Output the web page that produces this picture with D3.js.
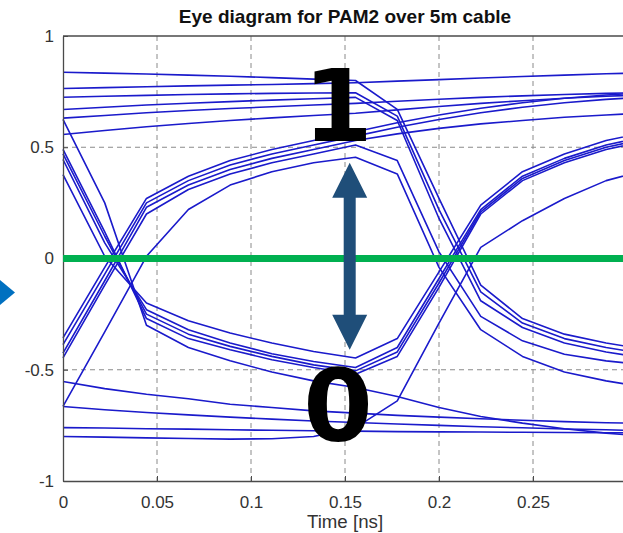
<!DOCTYPE html>
<html>
<head>
<meta charset="utf-8">
<script src="https://cdn.jsdelivr.net/npm/d3@7"></script>
<style>
  body { margin: 0; background: #fff; }
  .tick text { font-family: "Liberation Sans", Arial, sans-serif; fill: #333; }
</style>
</head>
<body>
<div id="eye"></div>
<script>
var svgWidth = 623;
var svgHeight = 533;

var margin = {
  top: 36,
  right: -4,
  bottom: 52,
  left: 63
};

var width = svgWidth - margin.left - margin.right;
var height = svgHeight - margin.top - margin.bottom;

// sample instants of every trace [ns]
var sampleTimes = [0, 0.0222, 0.0444, 0.0667, 0.0889, 0.1111, 0.1333, 0.1556,
  0.1778, 0.2, 0.2222, 0.2444, 0.2667, 0.2889, 0.3111, 0.3333];

// traces that sit high at t = 0
var upperTraces = [
  [0.837, 0.833, 0.829, 0.824, 0.819, 0.813, 0.806, 0.800, 0.670, 0.270, -0.120, -0.270, -0.340, -0.380, -0.410, -0.430],
  [0.764, 0.768, 0.772, 0.776, 0.779, 0.782, 0.786, 0.790, 0.797, 0.804, 0.811, 0.818, 0.824, 0.830, 0.835, 0.839],
  [0.725, 0.729, 0.733, 0.737, 0.740, 0.742, 0.744, 0.745, 0.640, 0.220, -0.150, -0.290, -0.360, -0.400, -0.430, -0.450],
  [0.670, 0.680, 0.690, 0.698, 0.705, 0.712, 0.718, 0.724, 0.620, 0.180, -0.190, -0.310, -0.380, -0.420, -0.450, -0.470],
  [0.631, 0.643, 0.655, 0.665, 0.674, 0.682, 0.690, 0.697, 0.707, 0.716, 0.724, 0.731, 0.737, 0.742, 0.746, 0.749],
  [0.557, 0.575, 0.592, 0.607, 0.620, 0.632, 0.643, 0.653, 0.668, 0.683, 0.697, 0.709, 0.720, 0.729, 0.736, 0.742]
];

// traces rising through the first crossing
var risingTraces = [
  [-0.357, -0.040, 0.270, 0.370, 0.440, 0.490, 0.530, 0.570, 0.610, 0.645, 0.675, 0.700, 0.720, 0.735, 0.745, 0.752],
  [-0.387, -0.070, 0.250, 0.350, 0.420, 0.470, 0.510, 0.550, 0.590, 0.625, 0.655, 0.680, 0.700, 0.715, 0.727, 0.737],
  [-0.425, -0.100, 0.230, 0.330, 0.400, 0.450, 0.490, 0.530, 0.560, 0.585, 0.605, 0.620, 0.635, 0.645, 0.655, 0.665],
  [-0.447, -0.120, 0.200, 0.310, 0.380, 0.430, 0.470, 0.510, 0.440, 0.030, -0.260, -0.370, -0.430, -0.460, -0.480, -0.500],
  [-0.665, -0.330, 0.010, 0.220, 0.330, 0.390, 0.430, 0.455, 0.380, -0.040, -0.320, -0.440, -0.510, -0.550, -0.580, -0.600]
];

// traces falling through the first crossing
var fallingTraces = [
  [0.625, 0.250, -0.300, -0.400, -0.460, -0.510, -0.550, -0.580, -0.620, -0.670, -0.710, -0.740, -0.765, -0.785, -0.800, -0.810],
  [0.490, 0.120, -0.270, -0.360, -0.410, -0.455, -0.490, -0.520, -0.440, -0.130, 0.200, 0.350, 0.430, 0.490, 0.530, 0.560],
  [0.470, 0.100, -0.250, -0.340, -0.395, -0.440, -0.478, -0.505, -0.420, -0.110, 0.210, 0.360, 0.440, 0.500, 0.540, 0.570],
  [0.445, 0.070, -0.230, -0.320, -0.380, -0.428, -0.463, -0.490, -0.400, -0.090, 0.220, 0.370, 0.450, 0.510, 0.550, 0.580],
  [0.377, 0.010, -0.200, -0.280, -0.335, -0.380, -0.418, -0.447, -0.360, -0.060, 0.240, 0.390, 0.470, 0.530, 0.570, 0.600]
];

// traces that sit low at t = 0
var lowerTraces = [
  [-0.553, -0.585, -0.610, -0.630, -0.655, -0.670, -0.685, -0.695, -0.705, -0.713, -0.720, -0.727, -0.733, -0.738, -0.742, -0.746],
  [-0.665, -0.680, -0.692, -0.703, -0.713, -0.722, -0.730, -0.737, -0.744, -0.750, -0.756, -0.761, -0.766, -0.770, -0.774, -0.777],
  [-0.760, -0.762, -0.765, -0.767, -0.770, -0.772, -0.774, -0.776, -0.778, -0.779, -0.780, -0.781, -0.782, -0.783, -0.784, -0.785],
  [-0.800, -0.803, -0.806, -0.809, -0.812, -0.810, -0.800, -0.760, -0.640, -0.290, 0.050, 0.170, 0.270, 0.350, 0.400, 0.440]
];

var xTicks = [0, 0.05, 0.1, 0.15, 0.2, 0.25];
var yTicks = [-1, -0.5, 0, 0.5, 1];
var gridX = [0.05, 0.1, 0.15, 0.2, 0.25, 0.3];
var gridY = [-0.5, 0.5];

var chartTitle = "Eye diagram for PAM2 over 5m cable";
var xLabel = "Time [ns]";

// annotation: arrow between the inner eye edges, level labels
var arrowT = 0.1525;
var arrowTop = 0.43;
var arrowBottom = -0.41;
var levelLabels = [
  { text: "1", t: 0.1463, v: 0.526 },
  { text: "0", t: 0.1463, v: -0.82 }
];

var svg = d3.select("#eye")
  .append("svg")
  .attr("width", svgWidth)
  .attr("height", svgHeight)
  .style("display", "block");

var chartGroup = svg.append("g")
  .attr("transform", `translate(${margin.left}, ${margin.top})`);

var xScale = d3.scaleLinear()
  .domain([0, 0.3])
  .range([0, width]);

var yScale = d3.scaleLinear()
  .domain([-1, 1])
  .range([height, 0]);

// dashed grid
chartGroup.selectAll(".gridx")
  .data(gridX)
  .enter()
  .append("line")
  .attr("x1", d => xScale(d))
  .attr("x2", d => xScale(d))
  .attr("y1", 0)
  .attr("y2", height)
  .attr("stroke", "#8a8a8a")
  .attr("stroke-width", 1)
  .attr("stroke-dasharray", "5,4");

chartGroup.selectAll(".gridy")
  .data(gridY)
  .enter()
  .append("line")
  .attr("x1", 0)
  .attr("x2", width)
  .attr("y1", d => yScale(d))
  .attr("y2", d => yScale(d))
  .attr("stroke", "#8a8a8a")
  .attr("stroke-width", 1)
  .attr("stroke-dasharray", "5,4");

// traces
var allTraces = upperTraces.concat(risingTraces, fallingTraces, lowerTraces);

var line = d3.line()
  .x((d, i) => xScale(sampleTimes[i]))
  .y(d => yScale(d));

chartGroup.selectAll(".trace")
  .data(allTraces)
  .enter()
  .append("path")
  .attr("class", "trace")
  .attr("d", line)
  .attr("fill", "none")
  .attr("stroke", "#1a1acb")
  .attr("stroke-width", 1.6)
  .attr("stroke-linejoin", "round");

// axes
var bottomAxis = d3.axisBottom(xScale)
  .tickValues(xTicks)
  .tickFormat(d => String(d))
  .tickSize(-5)
  .tickSizeOuter(0)
  .tickPadding(15);

var leftAxis = d3.axisLeft(yScale)
  .tickValues(yTicks)
  .tickFormat(d => String(d))
  .tickSize(-5)
  .tickSizeOuter(0)
  .tickPadding(9);

var xAxis = chartGroup.append("g")
  .attr("transform", `translate(0, ${height})`)
  .call(bottomAxis);

var yAxis = chartGroup.append("g")
  .call(leftAxis);

[xAxis, yAxis].forEach(function(ax) {
  ax.select(".domain").attr("stroke", "#4a4a4a").attr("stroke-width", 1.3);
  ax.selectAll(".tick line").attr("stroke", "#4a4a4a");
  ax.selectAll(".tick text").style("font-size", "17px");
});

// top box edge
chartGroup.append("line")
  .attr("x1", 0)
  .attr("x2", width)
  .attr("y1", 0)
  .attr("y2", 0)
  .attr("stroke", "#4a4a4a")
  .attr("stroke-width", 1.3);

// decision threshold
chartGroup.append("line")
  .attr("x1", xScale(0))
  .attr("x2", width)
  .attr("y1", yScale(0))
  .attr("y2", yScale(0))
  .attr("stroke", "#00b050")
  .attr("stroke-width", 7);

// double arrow
var ax = xScale(arrowT);
var yTop = yScale(arrowTop);
var yBot = yScale(arrowBottom);
var headW = 17.5, headL = 35, shaftW = 6;
var arrowPath = [
  [ax, yTop], [ax + headW, yTop + headL], [ax + shaftW, yTop + headL],
  [ax + shaftW, yBot - headL], [ax + headW, yBot - headL], [ax, yBot],
  [ax - headW, yBot - headL], [ax - shaftW, yBot - headL],
  [ax - shaftW, yTop + headL], [ax - headW, yTop + headL]
];
chartGroup.append("path")
  .attr("d", "M" + arrowPath.map(p => p.join(",")).join("L") + "Z")
  .attr("fill", "#1f4e79");

// level labels
chartGroup.selectAll(".level")
  .data(levelLabels)
  .enter()
  .append("text")
  .attr("x", d => xScale(d.t))
  .attr("y", d => yScale(d.v))
  .attr("text-anchor", "middle")
  .style("font-family", "'DejaVu Sans', sans-serif")
  .style("font-weight", "bold")
  .style("font-size", "100px")
  .attr("fill", "#000")
  .text(d => d.text);

// title and x label
svg.append("text")
  .attr("x", margin.left + width / 2)
  .attr("y", 22.5)
  .attr("text-anchor", "middle")
  .style("font-family", "'Liberation Sans', Arial, sans-serif")
  .style("font-weight", "bold")
  .style("font-size", "19px")
  .attr("fill", "#111")
  .text(chartTitle);

svg.append("text")
  .attr("x", margin.left + width / 2)
  .attr("y", 527.5)
  .attr("text-anchor", "middle")
  .style("font-family", "'Liberation Sans', Arial, sans-serif")
  .style("font-size", "18.7px")
  .attr("fill", "#333")
  .text(xLabel);

// cropped pointer at the left edge of the slide
svg.append("path")
  .attr("d", "M0,280L15,292.5L0,305Z")
  .attr("fill", "#0070c0");
</script>
</body>
</html>
